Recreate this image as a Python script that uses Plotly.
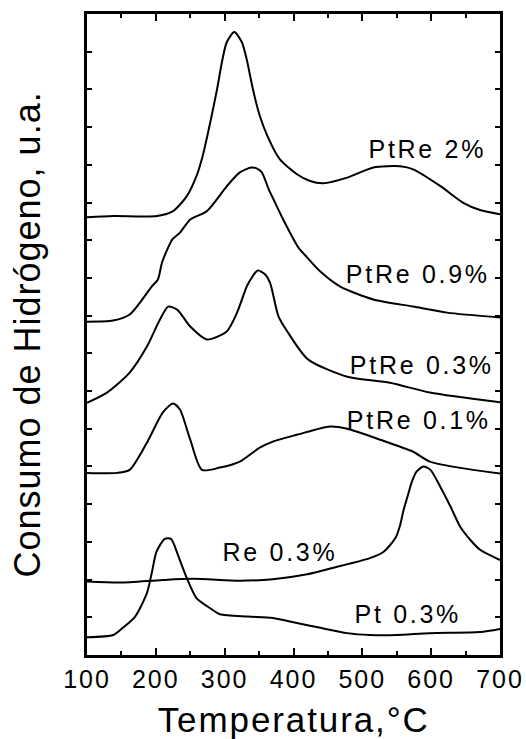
import plotly.graph_objects as go

# Temperature-programmed reduction profiles (hydrogen consumption, arbitrary units,
# curves stacked with vertical offsets)
temp_ptre_2 = [100, 138, 202, 225, 245, 259, 268, 279, 289, 296, 303, 314, 325, 332,
               341, 351, 362, 380, 405, 424, 443, 478, 516, 555, 574, 613, 646, 671, 700]
h2_ptre_2 = [11.61, 11.64, 11.64, 11.77, 12.17, 12.70, 13.23, 14.12, 15.01, 15.72, 16.25,
             16.52, 16.25, 15.80, 15.01, 14.30, 13.77, 13.15, 12.75, 12.57, 12.51, 12.66,
             12.93, 12.96, 12.88, 12.44, 12.00, 11.80, 11.69]

temp_ptre_09 = [100, 138, 162, 194, 203, 209, 218, 224, 235, 250, 274, 303, 322, 339,
                347, 354, 364, 369, 385, 407, 420, 439, 468, 516, 574, 623, 700]
h2_ptre_09 = [8.84, 8.87, 9.03, 9.77, 9.96, 10.41, 10.81, 11.02, 11.20, 11.55, 11.77,
              12.43, 12.80, 12.93, 12.90, 12.80, 12.35, 12.16, 11.55, 10.81, 10.54,
              10.17, 9.77, 9.43, 9.24, 9.08, 8.95]

temp_ptre_03 = [100, 129, 162, 187, 206, 218, 231, 250, 274, 303, 318, 332, 339, 348,
                359, 366, 378, 391, 421, 478, 540, 598, 700]
h2_ptre_03 = [6.69, 6.96, 7.49, 8.18, 8.90, 9.24, 9.16, 8.71, 8.37, 8.58, 9.08, 9.77,
              10.00, 10.20, 10.09, 9.87, 8.99, 8.58, 7.84, 7.38, 7.22, 6.96, 6.70]

temp_ptre_01 = [100, 144, 162, 187, 210, 225, 235, 250, 267, 293, 322, 351, 370, 405,
                453, 478, 526, 574, 598, 700]
h2_ptre_01 = [4.83, 4.83, 4.91, 5.63, 6.43, 6.67, 6.51, 5.71, 4.91, 4.97, 5.13, 5.50,
              5.66, 5.84, 6.06, 6.00, 5.71, 5.39, 5.13, 4.81]

temp_re_03 = [100, 148, 210, 255, 322, 370, 420, 468, 511, 531, 548, 555, 560, 567,
              572, 579, 589, 599, 613, 628, 642, 657, 671, 700]
h2_re_03 = [1.95, 1.92, 1.99, 2.02, 1.97, 2.01, 2.14, 2.36, 2.57, 2.74, 3.10, 3.45,
            3.85, 4.29, 4.60, 4.87, 5.00, 4.91, 4.47, 3.94, 3.41, 3.05, 2.79, 2.52]

temp_pt_03 = [100, 138, 152, 170, 187, 194, 201, 213, 222, 233, 245, 259, 279, 293,
              334, 370, 405, 439, 478, 511, 550, 598, 671, 700]
h2_pt_03 = [0.47, 0.53, 0.72, 1.02, 1.64, 2.17, 2.74, 3.08, 3.08, 2.61, 2.04, 1.51,
            1.24, 1.08, 1.02, 0.98, 0.85, 0.72, 0.58, 0.53, 0.53, 0.58, 0.61, 0.69]

curve_labels = ["PtRe 2%", "PtRe 0.9%", "PtRe 0.3%", "PtRe 0.1%", "Re 0.3%", "Pt 0.3%"]
label_temp = [594, 581, 586, 582, 380, 566]
label_h2 = [13.43, 10.11, 7.68, 6.22, 2.72, 1.09]

x_ticks = [100, 200, 300, 400, 500, 600, 700]

series = [
    (temp_ptre_2, h2_ptre_2),
    (temp_ptre_09, h2_ptre_09),
    (temp_ptre_03, h2_ptre_03),
    (temp_ptre_01, h2_ptre_01),
    (temp_re_03, h2_re_03),
    (temp_pt_03, h2_pt_03),
]

FONT = "Liberation Sans, Arial, sans-serif"
Y_TITLE = "Consumo de Hidrógeno, u.a."
X_TITLE = "Temperatura,°C"

fig = go.Figure()
for name, (t, h) in zip(curve_labels, series):
    fig.add_trace(go.Scatter(
        x=t, y=h, mode="lines", name=name,
        line=dict(color="black", width=2, shape="spline", smoothing=0.7),
        showlegend=False, hoverinfo="skip",
    ))

for text, xt, yh in zip(curve_labels, label_temp, label_h2):
    fig.add_annotation(x=xt, y=yh, text=text, showarrow=False,
                       xanchor="center", yanchor="middle",
                       font=dict(family=FONT, size=25, color="black"))

# axis titles
fig.add_annotation(xref="paper", yref="paper", x=-0.145, y=0.5,
                   text=Y_TITLE, textangle=-90,
                   showarrow=False, xanchor="center", yanchor="middle",
                   font=dict(family=FONT, size=36, color="black"))
fig.add_annotation(xref="paper", yref="paper", x=0.5, y=-0.1,
                   text=X_TITLE, showarrow=False,
                   xanchor="center", yanchor="middle",
                   font=dict(family=FONT, size=35, color="black"))

fig.update_layout(
    width=526, height=739,
    margin=dict(l=87, r=26, t=14, b=84),
    paper_bgcolor="white", plot_bgcolor="white",
    xaxis=dict(
        range=[100, 700], tickvals=x_ticks, ticktext=[str(v) for v in x_ticks],
        ticks="inside", ticklen=7, tickwidth=2, tickcolor="black",
        minor=dict(dtick=50, tick0=100, ticks="inside", ticklen=4, tickwidth=2,
                   tickcolor="black", showgrid=False),
        showline=True, linewidth=2.5, linecolor="black", mirror="ticks",
        showgrid=False, zeroline=False, automargin=False,
        tickfont=dict(family=FONT, size=25, color="black"),
    ),
    yaxis=dict(
        range=[0, 17], tick0=0, dtick=1,
        ticks="inside", ticklen=5, tickwidth=1.5, tickcolor="black",
        showticklabels=False, automargin=False,
        showline=True, linewidth=2.5, linecolor="black", mirror="ticks",
        showgrid=False, zeroline=False,
    ),
)

# wider letter spacing for the labels
spacing_css = (
    ".annotation-text{letter-spacing:2.7px}"
    ".xtick text{letter-spacing:2px}"
    f'text[data-unformatted="{X_TITLE}"]{{letter-spacing:1.9px}}'
    f'text[data-unformatted="{Y_TITLE}"]{{letter-spacing:1px}}'
)
post_js = (
    "var s=document.createElement('style');"
    f"s.textContent='{spacing_css}';"
    "document.head.appendChild(s);"
)

fig.write_html("out.html", post_script=post_js)
